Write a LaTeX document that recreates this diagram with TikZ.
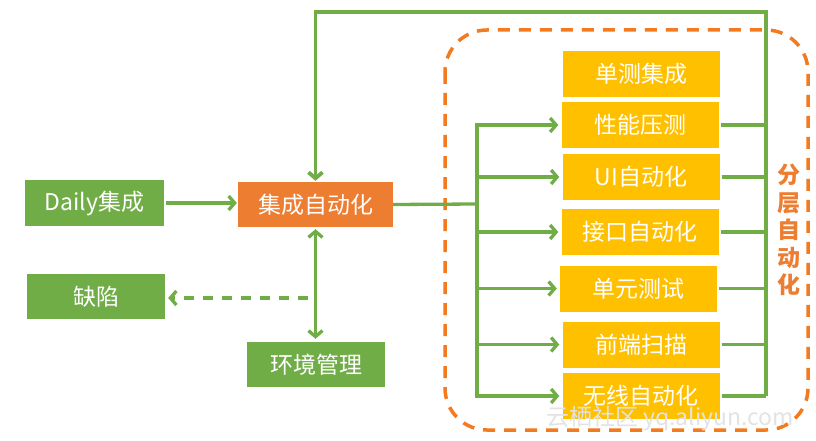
\documentclass[tikz,border=0pt]{standalone}
\usepackage{fontspec}
\setmainfont{Noto Sans CJK SC}
\usetikzlibrary{arrows.meta}
\definecolor{mygreen}{HTML}{70AD47}
\definecolor{myorange}{HTML}{ED7D31}
\definecolor{myyellow}{HTML}{FFC000}
\definecolor{dashorange}{HTML}{F47A1F}
\begin{document}
\begin{tikzpicture}[x=1pt,y=-1pt,
  box/.style={minimum width=139pt, minimum height=46pt, inner sep=0pt, text=white, fill=mygreen,
    font=\fontsize{23}{26}\selectfont},
  ybox/.style={box, fill=myyellow, minimum width=157pt},
  link/.style={draw=mygreen, line width=3.3pt},
  barb/.tip={Straight Barb[length=6pt,width=14pt]},
  arr/.style={link, -barb},
]
\useasboundingbox (0,0) rectangle (816,441);
\fill[white] (0,0) rectangle (816,441);

% dashed group frame
\draw[dashorange, line width=3.5pt, dash pattern=on 12pt off 9pt, rounded corners=42pt]
  (445,30) rectangle (808,430);

% left nodes
\node[box] (daily) at (94.5,203) {Daily集成};
\node[box, fill=myorange, minimum width=155pt, minimum height=45pt] (auto) at (315.5,204.5) {集成自动化};
\node[box, minimum width=138pt, minimum height=45pt] (defect) at (96,296.5) {缺陷};
\node[box, minimum width=138pt, minimum height=45pt] (env) at (316,364.5) {环境管理};

% yellow nodes
\node[ybox] (y1) at (641,74) {单测集成};
\node[ybox] (y2) at (640,125) {性能压测};
\node[ybox] (y3) at (641,177) {UI自动化};
\node[ybox] (y4) at (640,232) {接口自动化};
\node[ybox] (y5) at (638.5,288.5) {单元测试};
\node[ybox] (y6) at (641,344.5) {前端扫描};
\node[ybox] (y7) at (641,396) {无线自动化};

% label
\node[text=myorange, font=\fontsize{23}{27.5}\selectfont\bfseries, align=center, inner sep=0pt]
  (lbl) at (789,230) {分\\层\\自\\动\\化};

% coordinates for buses
\coordinate (busL) at (477,204);
\coordinate (busR) at (766,12);

% connectors left
\draw[arr, shorten <=2pt, shorten >=1pt] (daily.east) -- (daily.east -| auto.west);
\draw[link, {barb}-{barb}, shorten <=2pt, shorten >=3pt] (auto.south) -- (auto.south |- env.north);
\draw[link, dashed, dash pattern=on 10pt off 9pt, -barb, shorten <=8pt, shorten >=3pt]
  (auto.south |- 0,298) -- (defect.east |- 0,298);

% left bus
\draw[link] (auto.east) -- (busL);
\draw[link, line cap=rect] (busL |- y2.west) -- (busL |- y7.west);
\foreach \n in {y2,y3,y4,y5,y6,y7}
  \draw[arr, shorten >=3pt] (busL |- \n.west) -- (\n.west);

% right bus
\foreach \n in {y2,y3,y4,y5,y6,y7}
  \draw[link, shorten <=2pt] (\n.east) -- (\n.east -| busR);
\draw[link, line width=3.8pt, -barb, shorten >=1pt] (busR |- y7.east) -- (busR) -- (auto.north |- busR) -- (auto.north);

% watermark
\node[text=gray!22, font=\fontsize{23}{26}\selectfont, inner sep=0pt] (wm) at (670,418) {云栖社区 yq.aliyun.com};
\end{tikzpicture}
\end{document}
